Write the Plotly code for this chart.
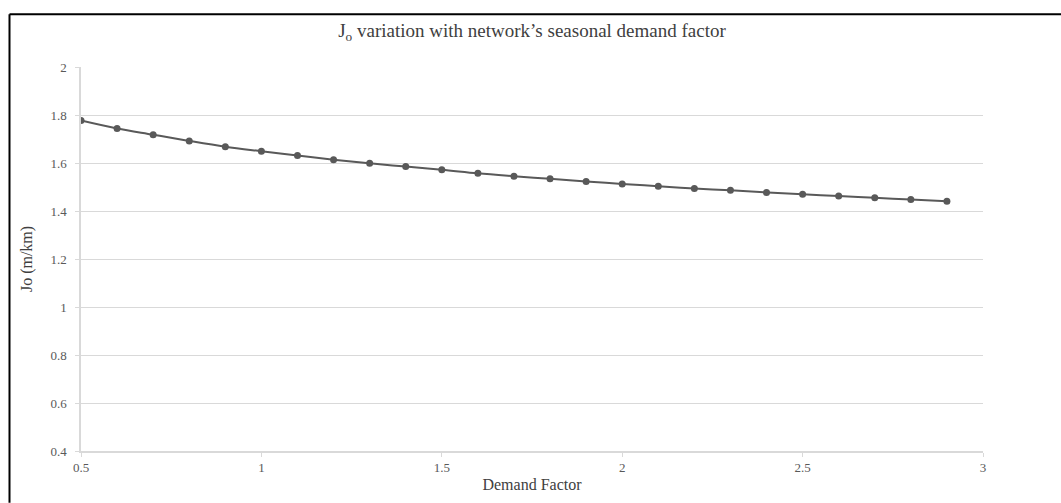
import plotly.graph_objects as go

# Demand factor values and the resulting Jo head loss (m/km)
demand_factor = [0.5, 0.6, 0.7, 0.8, 0.9, 1.0, 1.1, 1.2, 1.3, 1.4, 1.5, 1.6, 1.7,
                 1.8, 1.9, 2.0, 2.1, 2.2, 2.3, 2.4, 2.5, 2.6, 2.7, 2.8, 2.9]
jo_values = [1.777, 1.744, 1.718, 1.692, 1.668, 1.649, 1.631, 1.614, 1.599, 1.585,
             1.572, 1.557, 1.545, 1.534, 1.523, 1.513, 1.503, 1.494, 1.486, 1.477,
             1.470, 1.462, 1.455, 1.448, 1.441]

x_ticks = [0.5, 1, 1.5, 2, 2.5, 3]
x_tick_text = ["0.5", "1", "1.5", "2", "2.5", "3"]
y_ticks = [0.4, 0.6, 0.8, 1.0, 1.2, 1.4, 1.6, 1.8, 2.0]
y_tick_text = ["0.4", "0.6", "0.8", "1", "1.2", "1.4", "1.6", "1.8", "2"]

W, H = 1061, 503
ML, MR, MT, MB = 81, 78, 67, 50
PW, PH = W - ML - MR, H - MT - MB

SERIF = "Liberation Serif, Times New Roman, serif"
TEXT = "#595959"
GRID = "#d9d9d9"

fig = go.Figure(
    go.Scatter(
        x=demand_factor,
        y=jo_values,
        mode="lines+markers",
        line=dict(color="#595959", width=2, shape="spline"),
        marker=dict(color="#595959", size=7),
        showlegend=False,
    )
)


def px_to_paper_x(px):
    return (px - ML) / PW


def px_to_paper_y(py):
    return (H - MB - py) / PH


# Outer frame: top and left edges only
fig.add_shape(type="line", xref="paper", yref="paper",
              x0=px_to_paper_x(9.5), x1=px_to_paper_x(W + 2),
              y0=px_to_paper_y(14), y1=px_to_paper_y(14),
              line=dict(color="black", width=2))
fig.add_shape(type="line", xref="paper", yref="paper",
              x0=px_to_paper_x(9.5), x1=px_to_paper_x(9.5),
              y0=px_to_paper_y(14), y1=px_to_paper_y(H + 2),
              line=dict(color="black", width=2))

fig.update_layout(
    width=W,
    height=H,
    margin=dict(l=ML, r=MR, t=MT, b=MB, pad=0),
    paper_bgcolor="white",
    plot_bgcolor="white",
    font=dict(family=SERIF, color=TEXT, size=13),
    title=dict(
        text="J<sub>o</sub> variation with network’s seasonal demand factor",
        x=0.5, xref="paper", xanchor="center",
        y=1 - 30 / H, yanchor="middle",
        font=dict(family=SERIF, size=19, color="#404040"),
    ),
    xaxis=dict(
        range=[0.5, 3],
        tickvals=x_ticks,
        ticktext=x_tick_text,
        showgrid=False,
        showline=True,
        linecolor=GRID,
        linewidth=1.5,
        ticks="outside",
        ticklen=4,
        tickcolor=GRID,
        zeroline=False,
        tickfont=dict(family=SERIF, size=13, color=TEXT),
        title=dict(text="Demand Factor", standoff=4,
                   font=dict(family=SERIF, size=16, color="#404040")),
    ),
    yaxis=dict(
        range=[0.4, 2],
        tickvals=y_ticks,
        ticktext=y_tick_text,
        showgrid=True,
        gridcolor=GRID,
        gridwidth=1,
        showline=True,
        linecolor=GRID,
        linewidth=1.5,
        ticks="outside",
        ticklen=4,
        tickcolor=GRID,
        ticklabelstandoff=6,
        zeroline=False,
        tickfont=dict(family=SERIF, size=13, color=TEXT),
        title=dict(text="Jo (m/km)", standoff=14,
                   font=dict(family=SERIF, size=16, color="#404040")),
    ),
)

fig.write_html("out.html")
